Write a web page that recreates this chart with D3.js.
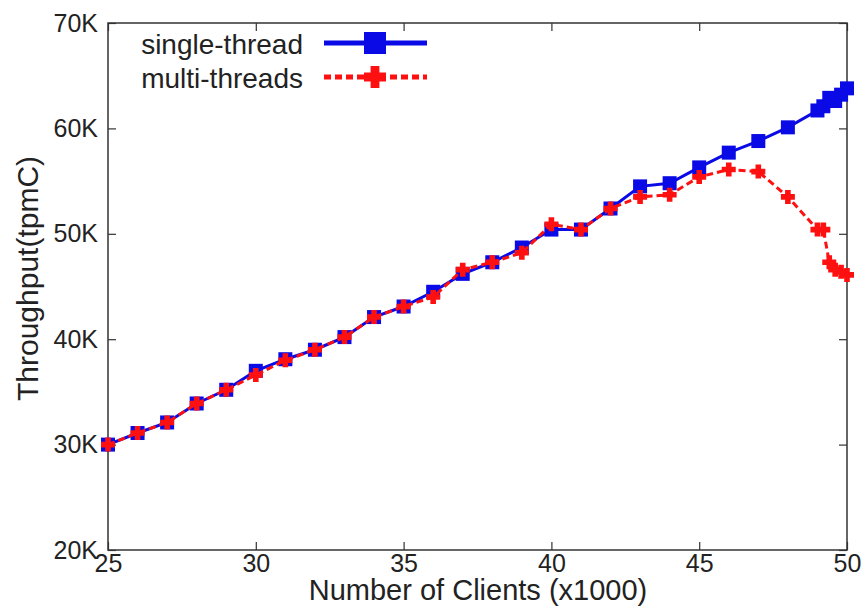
<!DOCTYPE html>
<html>
<head>
<meta charset="utf-8">
<script src="https://cdn.jsdelivr.net/npm/d3@7"></script>
<style>
  html, body { margin: 0; padding: 0; background: #fff; }
  svg { display: block; font-family: "Liberation Sans", Arial, sans-serif; }
</style>
</head>
<body>
<div id="chart"></div>
<script>
const clients = [25, 26, 27, 28, 29, 30, 31, 32, 33, 34, 35, 36, 37, 38, 39, 40, 41, 42, 43, 44, 45, 46, 47, 48, 49, 49.2, 49.4, 49.6, 49.8, 50];
const singleThread = [30.0, 31.1, 32.1, 33.9, 35.2, 37.0, 38.1, 39.0, 40.2, 42.1, 43.1, 44.5, 46.2, 47.3, 48.7, 50.4, 50.4, 52.4, 54.5, 54.8, 56.3, 57.7, 58.8, 60.1, 61.7, 62.1, 62.9, 62.6, 63.2, 63.8];
const multiThreads = [30.0, 31.1, 32.1, 33.9, 35.2, 36.6, 38.0, 39.0, 40.2, 42.1, 43.1, 44.0, 46.6, 47.3, 48.2, 50.9, 50.4, 52.4, 53.5, 53.7, 55.4, 56.1, 55.9, 53.5, 50.4, 50.4, 47.3, 46.6, 46.4, 46.1];
const xTicks = [25, 30, 35, 40, 45, 50];
const yTicks = [20000, 30000, 40000, 50000, 60000, 70000];

const width = 862;
const height = 608;
const margin = { top: 23, right: 15, bottom: 58, left: 108 };
const BLUE = "#0a0ae6";
const RED = "#ff1010";

const svg = d3.select("#chart").append("svg").attr("width", width).attr("height", height);

const x = d3.scaleLinear().domain([25, 50]).range([margin.left, width - margin.right]);
const y = d3.scaleLinear().domain([20000, 70000]).range([height - margin.bottom, margin.top]);

const series = [
  { name: "single-thread", values: singleThread, color: BLUE, dash: null, marker: "square" },
  { name: "multi-threads", values: multiThreads, color: RED, dash: "7,4", marker: "plus" },
];

// axes with inward ticks
const tickLen = 8;
const gx = svg.append("g").attr("transform", `translate(0,${y.range()[0]})`)
  .call(d3.axisBottom(x).tickValues(xTicks).tickSizeInner(-tickLen).tickSizeOuter(0).tickPadding(4));
const gy = svg.append("g").attr("transform", `translate(${x.range()[0]},0)`)
  .call(d3.axisLeft(y).tickValues(yTicks).tickFormat((d) => d / 1000 + "K").tickSizeInner(-tickLen).tickSizeOuter(0).tickPadding(10));
svg.append("g").attr("transform", `translate(${x.range()[1]},0)`)
  .call(d3.axisRight(y).tickValues(yTicks).tickFormat("").tickSizeInner(-tickLen).tickSizeOuter(0));
svg.append("g").attr("transform", `translate(0,${y.range()[1]})`)
  .call(d3.axisTop(x).tickValues(xTicks).tickFormat("").tickSizeInner(-tickLen).tickSizeOuter(0));

svg.selectAll(".domain").remove();
svg.selectAll(".tick line").attr("stroke", "#333").attr("stroke-width", 1.2);
svg.selectAll(".tick text").attr("font-size", 25).attr("fill", "#222")
  .style("font-family", "'Liberation Sans', Arial, sans-serif");

svg.append("rect")
  .attr("x", x.range()[0]).attr("y", y.range()[1])
  .attr("width", x.range()[1] - x.range()[0]).attr("height", y.range()[0] - y.range()[1])
  .attr("fill", "none").attr("stroke", "#333").attr("stroke-width", 1.5);

svg.append("text")
  .attr("x", 478).attr("y", 600)
  .attr("text-anchor", "middle").attr("font-size", 29).attr("fill", "#222")
  .text("Number of Clients (x1000)");

svg.append("text")
  .attr("transform", `translate(38,${(y.range()[0] + y.range()[1]) / 2 - 8}) rotate(-90)`)
  .attr("text-anchor", "middle").attr("font-size", 30).attr("fill", "#222")
  .text("Throughput(tpmC)");

function drawMarker(g, type, color, size) {
  if (type === "square") {
    g.append("rect").attr("x", -size / 2).attr("y", -size / 2)
      .attr("width", size).attr("height", size).attr("fill", color);
  } else {
    const a = size / 2, t = size * 0.2;
    g.append("path")
      .attr("d", `M${-t},${-a}H${t}V${-t}H${a}V${t}H${t}V${a}H${-t}V${t}H${-a}V${-t}H${-t}Z`)
      .attr("fill", color);
  }
}

const line = d3.line().x((d) => x(d[0])).y((d) => y(d[1] * 1000));

series.forEach((s) => {
  const pts = clients.map((c, i) => [c, s.values[i]]);
  svg.append("path").datum(pts)
    .attr("d", line).attr("fill", "none")
    .attr("stroke", s.color).attr("stroke-width", 3)
    .attr("stroke-dasharray", s.dash);
  svg.append("g").selectAll("g").data(pts).join("g")
    .attr("transform", (d) => `translate(${x(d[0])},${y(d[1] * 1000)})`)
    .each(function () { drawMarker(d3.select(this), s.marker, s.color, 14); });
});

// legend
const legend = svg.append("g");
series.forEach((s, i) => {
  const ly = 43 + i * 34;
  legend.append("text").attr("x", 303).attr("y", ly + 11)
    .attr("text-anchor", "end").attr("font-size", 28).attr("fill", "#222").text(s.name);
  legend.append("line").attr("x1", 324).attr("x2", 427).attr("y1", ly).attr("y2", ly)
    .attr("stroke", s.color).attr("stroke-width", 5).attr("stroke-dasharray", s.dash);
  const m = legend.append("g").attr("transform", `translate(375,${ly})`);
  drawMarker(m, s.marker, s.color, 22);
});
</script>
</body>
</html>
